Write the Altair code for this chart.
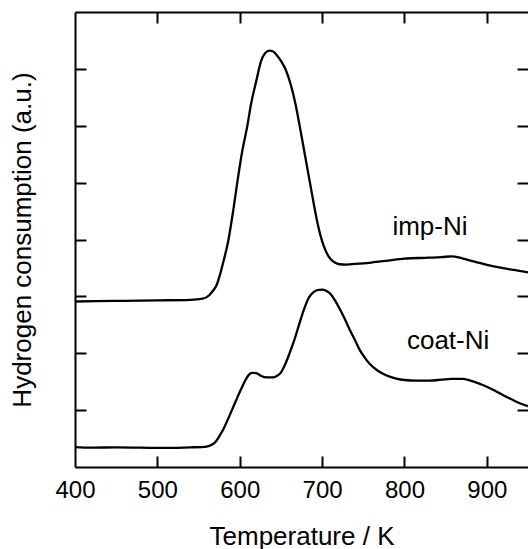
import altair as alt
import pandas as pd

# ---- data ----
imp_T = [400, 450, 500, 540, 555, 563, 567, 572, 576, 580, 586, 592, 597, 603, 609, 614, 620, 626, 631, 636,
         640, 645, 651, 656, 662, 668, 673, 679, 685, 690, 695, 700, 705, 710, 715, 721, 730, 740, 760, 780,
         800, 830, 845, 857, 870, 885, 900, 920, 935, 950]
imp_v = [2.91, 2.92, 2.93, 2.94, 2.96, 3.02, 3.09, 3.20, 3.38, 3.60, 3.97, 4.50, 5.00, 5.55, 5.98, 6.40, 6.78, 7.14, 7.28, 7.32,
         7.31, 7.24, 7.12, 6.98, 6.72, 6.36, 5.98, 5.50, 5.02, 4.62, 4.25, 3.97, 3.78, 3.66, 3.60, 3.565, 3.56, 3.57, 3.595, 3.63,
         3.665, 3.68, 3.69, 3.705, 3.67, 3.61, 3.555, 3.495, 3.46, 3.42]

coat_T = [400, 420, 450, 480, 510, 540, 560, 566, 571, 576, 580, 586, 592, 597, 602, 607, 611, 615, 620, 626,
          633, 640, 645, 650, 655, 660, 666, 672, 678, 684, 690, 696, 701, 706, 711, 716, 721, 727, 733, 740,
          746, 752, 758, 766, 774, 782, 790, 800, 815, 830, 845, 857, 870, 880, 890, 900, 910, 920, 930, 940, 950]
coat_v = [0.35, 0.34, 0.345, 0.34, 0.335, 0.345, 0.36, 0.39, 0.45, 0.56, 0.66, 0.85, 1.05, 1.22, 1.38, 1.53, 1.62, 1.655, 1.65, 1.60,
          1.575, 1.575, 1.60, 1.66, 1.80, 1.98, 2.22, 2.50, 2.77, 2.98, 3.08, 3.115, 3.12, 3.09, 3.03, 2.92, 2.79, 2.62, 2.43, 2.23,
          2.05, 1.92, 1.81, 1.71, 1.64, 1.59, 1.555, 1.53, 1.52, 1.52, 1.535, 1.55, 1.55, 1.52, 1.47, 1.41, 1.34, 1.26, 1.19, 1.12, 1.07]

label_text = ["imp-Ni", "coat-Ni"]
label_T = [831, 853]
label_v = [4.08, 2.07]

x_ticks = [500, 600, 700, 800, 900]
x_labels = [400, 500, 600, 700, 800, 900]
y_ticks = [1, 2, 3, 4, 5, 6, 7]
x_domain = [400, 950]
y_domain = [0, 8]

df = pd.concat([
    pd.DataFrame({"T": imp_T, "v": imp_v, "series": "imp-Ni"}),
    pd.DataFrame({"T": coat_T, "v": coat_v, "series": "coat-Ni"}),
])
lab = pd.DataFrame({"T": label_T, "v": label_v, "label": label_text})

FONT = "Liberation Sans"
xs = alt.Scale(domain=x_domain, nice=False, zero=False)
ys = alt.Scale(domain=y_domain, nice=False, zero=False)

lines = alt.Chart(df).mark_line(color="black", strokeWidth=2.3, interpolate="monotone").encode(
    x=alt.X("T:Q", scale=xs, axis=alt.Axis(
        orient="bottom", values=x_labels, ticks=False, grid=False, domain=True,
        domainColor="black", domainWidth=2, labelFont=FONT, labelFontSize=24, labelColor="black",
        labelPadding=11, labelFlush=False, title="Temperature / K", titleFont=FONT, titleFontSize=26,
        titleFontWeight="normal", titleColor="black", titlePadding=21)),
    y=alt.Y("v:Q", scale=ys, axis=alt.Axis(
        orient="left", ticks=False, labels=False, grid=False, domain=True, domainColor="black",
        domainWidth=2, title="Hydrogen consumption (a.u.)", titleFont=FONT, titleFontSize=26,
        titleFontWeight="normal", titleColor="black", titlePadding=40)),
    detail="series:N",
)

texts = alt.Chart(lab).mark_text(font=FONT, fontSize=26, color="black", align="center",
                                 baseline="alphabetic").encode(
    x=alt.X("T:Q", scale=xs, axis=alt.Axis(
        orient="top", ticks=False, labels=False, grid=False, domain=True, domainColor="black",
        domainWidth=2, title=None)),
    y=alt.Y("v:Q", scale=ys, axis=alt.Axis(
        orient="right", values=y_ticks, ticks=True, tickSize=11, tickWidth=2, tickColor="black",
        offset=-11, labels=False, grid=False, domain=False, title=None)),
    text="label:N",
)

ticks_a = alt.Chart(df).mark_line(strokeOpacity=0).encode(
    x=alt.X("T:Q", scale=xs, axis=alt.Axis(
        orient="bottom", values=x_ticks, ticks=True, tickSize=11, tickWidth=2, tickColor="black",
        offset=-11, labels=False, grid=False, domain=False, title=None)),
    y=alt.Y("v:Q", scale=ys, axis=alt.Axis(
        orient="left", values=y_ticks, ticks=True, tickSize=11, tickWidth=2, tickColor="black",
        offset=-11, labels=False, grid=False, domain=False, title=None)),
    detail="series:N",
)

ticks_b = alt.Chart(df).mark_line(strokeOpacity=0).encode(
    x=alt.X("T:Q", scale=xs, axis=alt.Axis(
        orient="top", values=x_ticks, ticks=True, tickSize=11, tickWidth=2, tickColor="black",
        offset=-11, labels=False, grid=False, domain=False, title=None)),
    y=alt.Y("v:Q", scale=ys, axis=None),
    detail="series:N",
)

chart = alt.layer(lines, texts, ticks_a, ticks_b).resolve_scale(
    x="independent", y="independent"
).properties(
    width=453, height=455,
    autosize=alt.AutoSizeParams(type="none"),
    padding={"left": 75, "top": 12, "right": 0, "bottom": 82},
    background="white",
).configure_view(stroke="transparent")

chart.save("out.html", embed_options={"renderer": "svg", "actions": False})
